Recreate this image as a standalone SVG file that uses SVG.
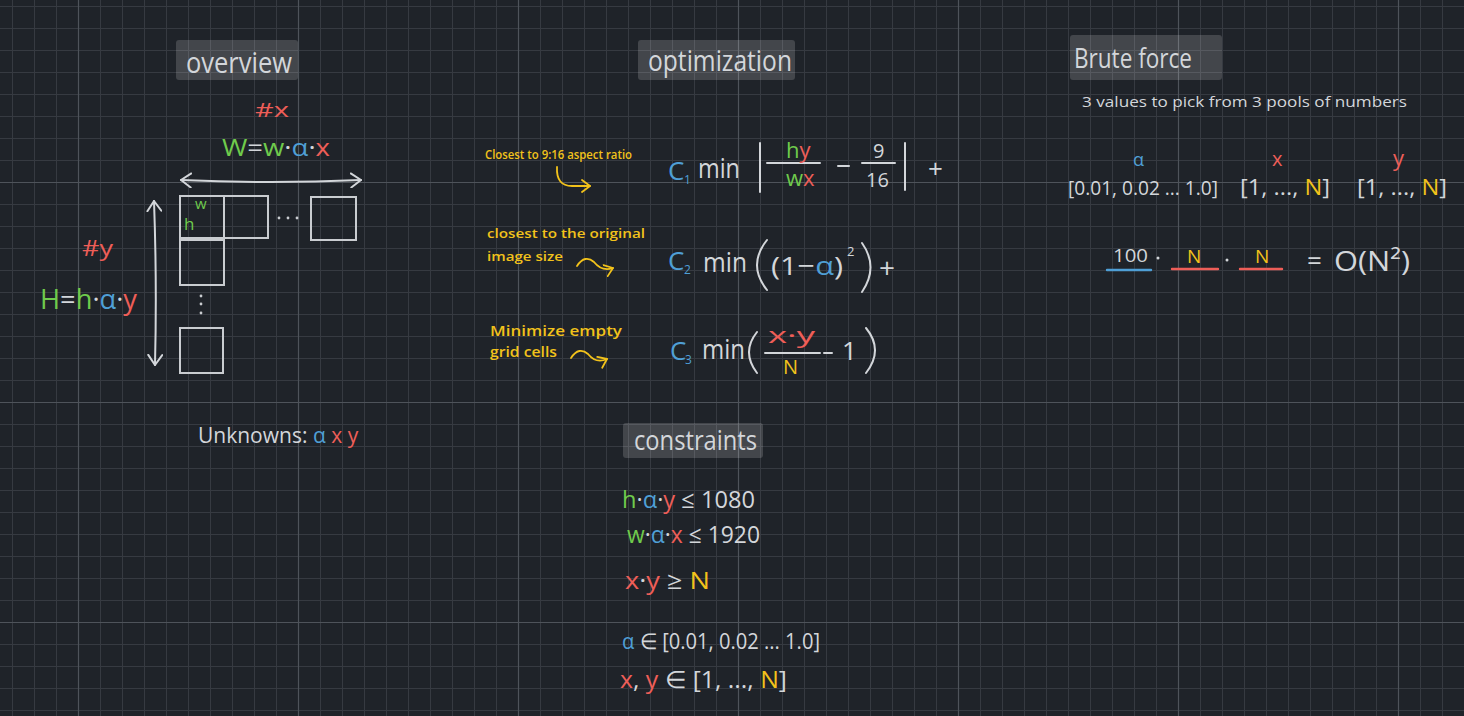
<svg xmlns="http://www.w3.org/2000/svg" width="1464" height="716" viewBox="0 0 1464 716">
<defs>
<style>
.t{font-family:"Open Sans","Liberation Sans",sans-serif;fill:#d3d6da}
.r{fill:#ee5e58}.g{fill:#6fcb4c}.b{fill:#4f9fd6}.y{fill:#f2c21b}.w{fill:#d3d6da}
.ln{stroke:#d3d6da;stroke-width:2;fill:none;stroke-linecap:round;stroke-linejoin:round}
.yl{stroke:#f2c21b;stroke-width:1.8;fill:none;stroke-linecap:round;stroke-linejoin:round}
.hd{fill:#ffffff;fill-opacity:0.16}
.sq{stroke:#c9ccd0;stroke-width:2;fill:none}
.ul{stroke-width:2.4;stroke-linecap:round}
.an{font-weight:600}
</style>
<pattern id="grid" width="22" height="22" patternUnits="userSpaceOnUse" x="12" y="6">
<path d="M0 0.5H22M0.5 0V22" stroke="#363a41" stroke-width="1" fill="none"/>
</pattern>
<marker id="ag" viewBox="0 0 12 16" refX="11" refY="8" markerWidth="12" markerHeight="16" orient="auto-start-reverse" markerUnits="userSpaceOnUse">
<path d="M1,1 L11,8 L1,15" fill="none" stroke="#d3d6da" stroke-width="2" stroke-linecap="round" stroke-linejoin="round"/>
</marker>
<marker id="ay" viewBox="0 0 10 14" refX="9" refY="7" markerWidth="10" markerHeight="14" orient="auto" markerUnits="userSpaceOnUse">
<path d="M1,1 L9,7 L1,13" fill="none" stroke="#f2c21b" stroke-width="1.8" stroke-linecap="round" stroke-linejoin="round"/>
</marker>
</defs>

<rect width="1464" height="716" fill="#1f2329"/>
<rect width="1464" height="716" fill="url(#grid)"/>
<path d="M78.5 0V716M298.5 0V716M518.5 0V716M738.5 0V716M958.5 0V716M1178.5 0V716M1398.5 0V716M0 182.5H1464M0 402.5H1464M0 622.5H1464" stroke="#4e535a" stroke-width="1.2" fill="none"/>

<g id="overview">
<rect class="hd" x="176" y="40" width="122" height="40" rx="3"/>
<text class="t" x="186" y="73" font-size="30" textLength="106" lengthAdjust="spacingAndGlyphs">overview</text>
<text class="t r" x="255" y="117" font-size="20" textLength="34" lengthAdjust="spacingAndGlyphs">#x</text>
<text class="t" x="222" y="156" font-size="24" textLength="108" lengthAdjust="spacingAndGlyphs"><tspan class="g">W</tspan><tspan class="w">=</tspan><tspan class="g">w</tspan><tspan class="w">·</tspan><tspan class="b">α</tspan><tspan class="w">·</tspan><tspan class="r">x</tspan></text>
<rect class="sq" x="180" y="196" width="44" height="42"/>
<rect class="sq" x="224" y="196" width="44" height="42"/>
<rect class="sq" x="311" y="197" width="45" height="43"/>
<rect class="sq" x="180" y="240" width="44" height="45"/>
<rect class="sq" x="180" y="328" width="43" height="45"/>
<g fill="#c9ccd0"><circle cx="279" cy="218" r="1.4"/><circle cx="288" cy="218" r="1.4"/><circle cx="297" cy="218" r="1.4"/><circle cx="201" cy="296" r="1.4"/><circle cx="201" cy="304" r="1.4"/><circle cx="201" cy="313" r="1.4"/></g>
<text class="t g" x="195" y="209" font-size="15">w</text>
<text class="t g" x="184" y="230" font-size="17">h</text>
<text class="t r" x="82" y="256" font-size="22" textLength="31" lengthAdjust="spacingAndGlyphs">#y</text>
<text class="t" x="40" y="309" font-size="28" textLength="97" lengthAdjust="spacingAndGlyphs"><tspan class="g">H</tspan><tspan class="w">=</tspan><tspan class="g">h</tspan><tspan class="w">·</tspan><tspan class="b">α</tspan><tspan class="w">·</tspan><tspan class="r">y</tspan></text>
<text class="t" x="198" y="443" font-size="21">Unknowns: <tspan class="b">α</tspan> <tspan class="r">x</tspan> <tspan class="r">y</tspan></text>
</g>

<g id="optimization">
<rect class="hd" x="638" y="40" width="157" height="40" rx="3"/>
<text class="t" x="648" y="71" font-size="30" textLength="144" lengthAdjust="spacingAndGlyphs">optimization</text>
<text class="t y an" x="485" y="159" font-size="12" textLength="147" lengthAdjust="spacingAndGlyphs">Closest to 9:16 aspect ratio</text>
<text class="t b" x="668" y="180" font-size="26">C</text>
<text class="t b" x="684" y="184" font-size="12">1</text>
<text class="t" x="698" y="178" font-size="28" textLength="42" lengthAdjust="spacingAndGlyphs">min</text>
<path class="ln" d="M760 143V192M905 143V190M767 163H820M862 163H895M838 166H849"/>
<text class="t" x="786" y="158" font-size="22"><tspan class="g">h</tspan><tspan class="r">y</tspan></text>
<text class="t" x="786" y="186" font-size="22"><tspan class="g">w</tspan><tspan class="r">x</tspan></text>
<text class="t" x="873" y="158" font-size="20">9</text>
<text class="t" x="866" y="187" font-size="20">16</text>
<text class="t" x="928" y="178" font-size="26">+</text>

<text class="t y an" x="487" y="238" font-size="13" textLength="158" lengthAdjust="spacingAndGlyphs">closest to the original</text>
<text class="t y an" x="487" y="261" font-size="13" textLength="76" lengthAdjust="spacingAndGlyphs">image size</text>
<text class="t b" x="668" y="270" font-size="26">C</text>
<text class="t b" x="684" y="274" font-size="12">2</text>
<text class="t" x="703" y="272" font-size="28" textLength="44" lengthAdjust="spacingAndGlyphs">min</text>
<path class="ln" d="M767 240Q747 265 767 290M862 243Q879 267 862 292"/>
<text class="t" x="771" y="275" font-size="26" textLength="72" lengthAdjust="spacingAndGlyphs">(1−<tspan class="b">α</tspan>)</text>
<text class="t" x="847" y="256" font-size="13">2</text>
<text class="t" x="879" y="278" font-size="28">+</text>

<text class="t y an" x="490" y="336" font-size="14" textLength="132" lengthAdjust="spacingAndGlyphs">Minimize empty</text>
<text class="t y an" x="490" y="357" font-size="14" textLength="67" lengthAdjust="spacingAndGlyphs">grid cells</text>
<text class="t b" x="670" y="360" font-size="26">C</text>
<text class="t b" x="685" y="364" font-size="12">3</text>
<text class="t" x="702" y="359" font-size="28" textLength="43" lengthAdjust="spacingAndGlyphs">min</text>
<path class="ln" d="M757 332Q741 352 757 373M866 328Q884 350 866 373M765 353H820M824 353H832"/>
<text class="t r" x="768" y="343" font-size="22" textLength="47" lengthAdjust="spacingAndGlyphs">x·y</text>
<text class="t y" x="783" y="374" font-size="20">N</text>
<text class="t" x="842" y="360" font-size="26">1</text>
</g>

<g id="brute-force">
<rect class="hd" x="1070" y="35" width="152" height="45" rx="3"/>
<text class="t" x="1074" y="68" font-size="28" textLength="118" lengthAdjust="spacingAndGlyphs">Brute force</text>
<text class="t" x="1082" y="107" font-size="14" textLength="325" lengthAdjust="spacingAndGlyphs">3 values to pick from 3 pools of numbers</text>
<text class="t b" x="1133" y="166" font-size="18">α</text>
<text class="t r" x="1272" y="166" font-size="20">x</text>
<text class="t r" x="1393" y="166" font-size="22">y</text>
<text class="t" x="1068" y="195" font-size="20" textLength="150" lengthAdjust="spacingAndGlyphs">[0.01, 0.02 ... 1.0]</text>
<text class="t" x="1240" y="195" font-size="22" textLength="90" lengthAdjust="spacingAndGlyphs">[1, ..., <tspan class="y">N</tspan>]</text>
<text class="t" x="1357" y="195" font-size="22" textLength="90" lengthAdjust="spacingAndGlyphs">[1, ..., <tspan class="y">N</tspan>]</text>
<text class="t" x="1113" y="262" font-size="19" textLength="35" lengthAdjust="spacingAndGlyphs">100</text>
<path class="ul" stroke="#4f9fd6" d="M1107 270H1151"/>
<path class="ul" stroke="#ee5e58" d="M1172 269H1218M1240 269H1282"/>
<circle cx="1158" cy="258" r="1.5" fill="#d3d6da"/>
<circle cx="1227" cy="260" r="1.5" fill="#d3d6da"/>
<text class="t y" x="1187" y="263" font-size="19">N</text>
<text class="t y" x="1255" y="263" font-size="19">N</text>
<text class="t" x="1307" y="270" font-size="26">=</text>
<text class="t" x="1334" y="271" font-size="28" textLength="76" lengthAdjust="spacingAndGlyphs">O(N²)</text>
</g>

<g id="constraints">
<rect class="hd" x="623" y="423" width="140" height="35" rx="3"/>
<text class="t" x="634" y="450" font-size="28" textLength="123" lengthAdjust="spacingAndGlyphs">constraints</text>
<text class="t" x="622" y="508" font-size="24" textLength="133" lengthAdjust="spacingAndGlyphs"><tspan class="g">h</tspan>·<tspan class="b">α</tspan>·<tspan class="r">y</tspan> ≤ 1080</text>
<text class="t" x="627" y="543" font-size="24" textLength="133" lengthAdjust="spacingAndGlyphs"><tspan class="g">w</tspan>·<tspan class="b">α</tspan>·<tspan class="r">x</tspan> ≤ 1920</text>
<text class="t" x="625" y="589" font-size="24" textLength="85" lengthAdjust="spacingAndGlyphs"><tspan class="r">x</tspan>·<tspan class="r">y</tspan> ≥ <tspan class="y">N</tspan></text>
<text class="t" x="622" y="649" font-size="22" textLength="198" lengthAdjust="spacingAndGlyphs"><tspan class="b">α</tspan> ∈ [0.01, 0.02 ... 1.0]</text>
<text class="t" x="620" y="688" font-size="24" textLength="167" lengthAdjust="spacingAndGlyphs"><tspan class="r">x</tspan>, <tspan class="r">y</tspan> ∈ [1, ..., <tspan class="y">N</tspan>]</text>
</g>

<g id="connectors">
<path class="ln" d="M181 180Q270 184 361 180" marker-start="url(#ag)" marker-end="url(#ag)"/>
<path class="ln" d="M154 201Q157 283 155 365" marker-start="url(#ag)" marker-end="url(#ag)"/>
<path class="yl" d="M557 167Q556 186 572 186L590 186" marker-end="url(#ay)"/>
<path class="yl" d="M577 266Q585 254 594 262Q602 272 613 268" marker-end="url(#ay)"/>
<path class="yl" d="M571 358Q579 346 588 354Q596 364 607 359" marker-end="url(#ay)"/>
</g>
</svg>
